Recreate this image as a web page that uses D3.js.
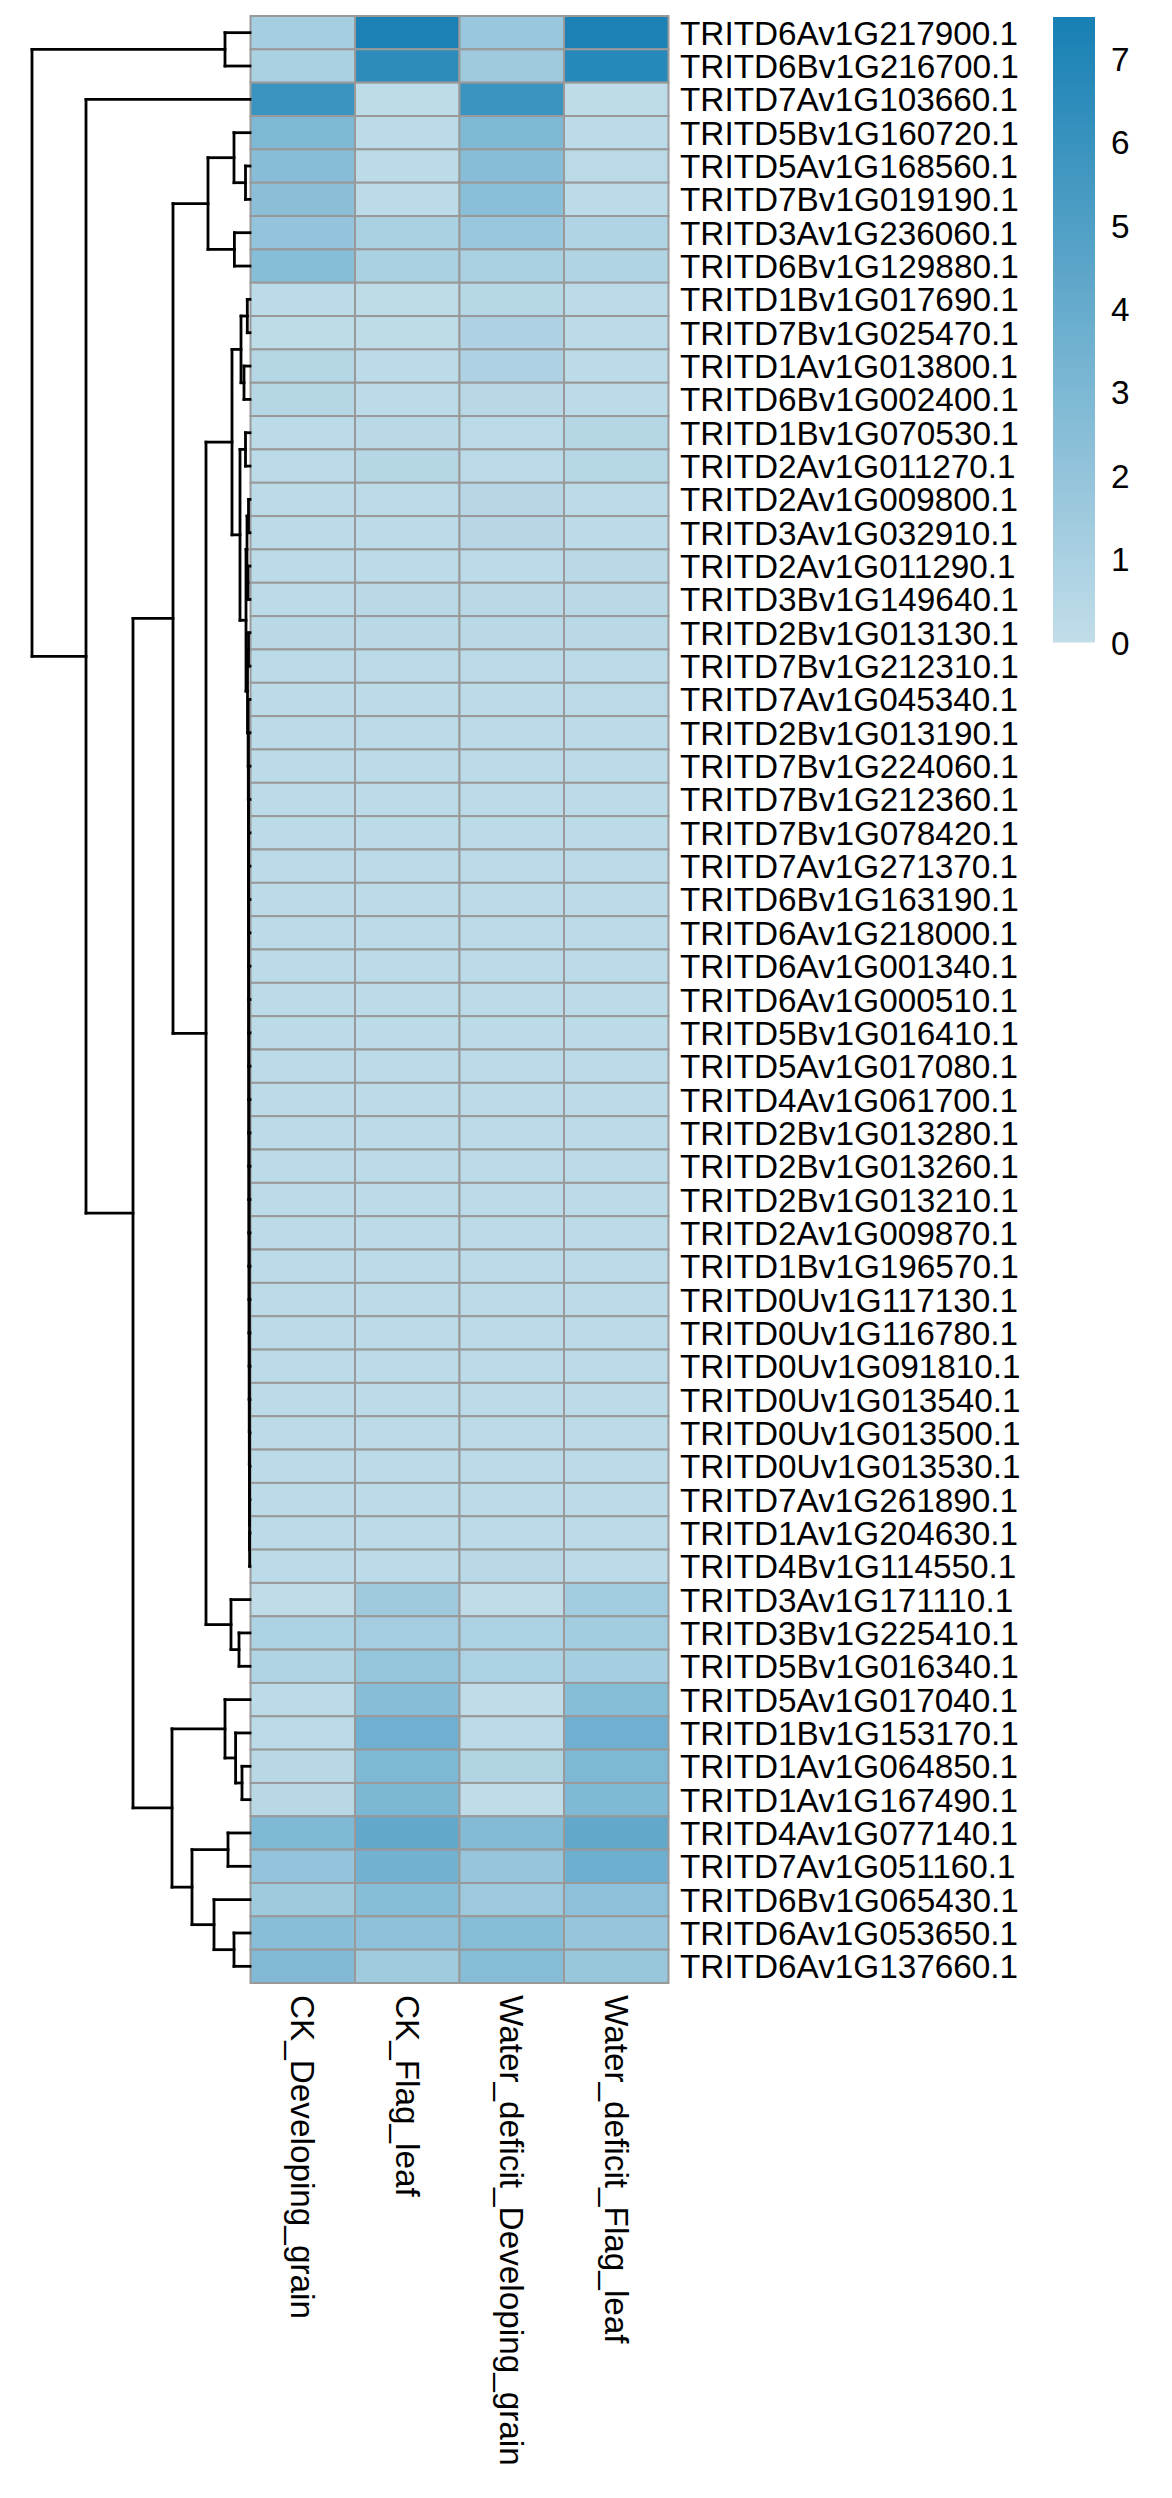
<!DOCTYPE html>
<html>
<head>
<meta charset="utf-8">
<script src="https://cdn.jsdelivr.net/npm/d3@7/dist/d3.min.js"></script>
<style>
  html, body { margin: 0; padding: 0; background: #ffffff; }
  svg { display: block; }
  text { font-family: "Liberation Sans", Arial, Helvetica, sans-serif; fill: #000; }
</style>
</head>
<body>
<svg id="chart" width="1172" height="2498"></svg>
<script>
// ---------------- DATA ----------------
const rowLabels = [
  "TRITD6Av1G217900.1","TRITD6Bv1G216700.1","TRITD7Av1G103660.1","TRITD5Bv1G160720.1",
  "TRITD5Av1G168560.1","TRITD7Bv1G019190.1","TRITD3Av1G236060.1","TRITD6Bv1G129880.1",
  "TRITD1Bv1G017690.1","TRITD7Bv1G025470.1","TRITD1Av1G013800.1","TRITD6Bv1G002400.1",
  "TRITD1Bv1G070530.1","TRITD2Av1G011270.1","TRITD2Av1G009800.1","TRITD3Av1G032910.1",
  "TRITD2Av1G011290.1","TRITD3Bv1G149640.1","TRITD2Bv1G013130.1","TRITD7Bv1G212310.1",
  "TRITD7Av1G045340.1","TRITD2Bv1G013190.1","TRITD7Bv1G224060.1","TRITD7Bv1G212360.1",
  "TRITD7Bv1G078420.1","TRITD7Av1G271370.1","TRITD6Bv1G163190.1","TRITD6Av1G218000.1",
  "TRITD6Av1G001340.1","TRITD6Av1G000510.1","TRITD5Bv1G016410.1","TRITD5Av1G017080.1",
  "TRITD4Av1G061700.1","TRITD2Bv1G013280.1","TRITD2Bv1G013260.1","TRITD2Bv1G013210.1",
  "TRITD2Av1G009870.1","TRITD1Bv1G196570.1","TRITD0Uv1G117130.1","TRITD0Uv1G116780.1",
  "TRITD0Uv1G091810.1","TRITD0Uv1G013540.1","TRITD0Uv1G013500.1","TRITD0Uv1G013530.1",
  "TRITD7Av1G261890.1","TRITD1Av1G204630.1","TRITD4Bv1G114550.1","TRITD3Av1G171110.1",
  "TRITD3Bv1G225410.1","TRITD5Bv1G016340.1","TRITD5Av1G017040.1","TRITD1Bv1G153170.1",
  "TRITD1Av1G064850.1","TRITD1Av1G167490.1","TRITD4Av1G077140.1","TRITD7Av1G051160.1",
  "TRITD6Bv1G065430.1","TRITD6Av1G053650.1","TRITD6Av1G137660.1"
];

const colLabels = ["CK_Developing_grain","CK_Flag_leaf","Water_deficit_Developing_grain","Water_deficit_Flag_leaf"];

const ckDevelopingGrain = [
  1.2, 1.0, 5.9, 3.0, 2.55, 2.4, 2.05, 2.6, 0.2, 0.15,
  0.55, 0.55, 0.2, 0.2, 0.2, 0.2, 0.2, 0.2, 0.3, 0.2,
  0.2, 0.2, 0.2, 0.2, 0.2, 0.2, 0.2, 0.2, 0.2, 0.2,
  0.2, 0.2, 0.2, 0.2, 0.2, 0.2, 0.2, 0.2, 0.2, 0.2,
  0.2, 0.2, 0.2, 0.2, 0.2, 0.2, 0.2, 0.1, 0.9, 0.75,
  0.2, 0.25, 0.4, 0.4, 2.9, 2.05, 1.55, 2.5, 2.8
];
const ckFlagLeaf = [
  7.3, 6.5, 0.15, 0.2, 0.2, 0.2, 1.0, 1.0, 0.15, 0.15,
  0.2, 0.2, 0.3, 0.55, 0.25, 0.2, 0.2, 0.3, 0.3, 0.25,
  0.2, 0.25, 0.2, 0.2, 0.2, 0.2, 0.2, 0.2, 0.2, 0.2,
  0.2, 0.2, 0.2, 0.2, 0.2, 0.2, 0.2, 0.2, 0.2, 0.2,
  0.2, 0.2, 0.2, 0.2, 0.2, 0.2, 0.2, 1.5, 1.3, 1.95,
  2.55, 3.6, 3.0, 3.05, 4.25, 3.5, 2.6, 2.3, 1.45
];
const wdDevelopingGrain = [
  1.75, 1.5, 5.9, 3.0, 2.55, 2.45, 1.75, 1.0, 0.5, 0.85,
  0.85, 0.4, 0.25, 0.2, 0.45, 0.45, 0.2, 0.3, 0.3, 0.25,
  0.2, 0.2, 0.2, 0.2, 0.2, 0.2, 0.2, 0.2, 0.2, 0.2,
  0.2, 0.2, 0.2, 0.2, 0.2, 0.2, 0.2, 0.2, 0.2, 0.2,
  0.2, 0.2, 0.2, 0.2, 0.2, 0.2, 0.3, 0.1, 0.9, 0.9,
  0.1, 0.2, 0.65, 0.1, 2.75, 1.9, 1.6, 2.65, 2.65
];
const wdFlagLeaf = [
  7.3, 6.8, 0.15, 0.2, 0.25, 0.2, 0.7, 0.7, 0.2, 0.2,
  0.2, 0.2, 0.55, 0.5, 0.2, 0.2, 0.35, 0.3, 0.3, 0.2,
  0.25, 0.2, 0.2, 0.2, 0.2, 0.2, 0.2, 0.2, 0.2, 0.2,
  0.2, 0.2, 0.2, 0.2, 0.2, 0.2, 0.2, 0.2, 0.2, 0.2,
  0.2, 0.2, 0.2, 0.2, 0.2, 0.2, 0.2, 1.35, 1.35, 1.25,
  2.6, 3.6, 2.95, 2.9, 4.25, 3.7, 2.3, 1.9, 1.8
];

const legendTicks = [0, 1, 2, 3, 4, 5, 6, 7];
const colorDomain = [0, 7.5];

// Row dendrogram merges: [id, left, right, height]; numbers = row index, strings = earlier merge id
const dendroMerges = [
  ["a1", 0, 1, 1.25],
  ["a2", 4, 5, 0.225],
  ["a3", 3, "a2", 0.8],
  ["a4", 6, 7, 0.78],
  ["a5", "a3", "a4", 2.1],
  ["b1", 8, 9, 0.135],
  ["b2", 10, 11, 0.3],
  ["b3", "b1", "b2", 0.45],
  ["b4", 12, 13, 0.225],
  ["c1", 14, 15, 0.075],
  ["c2", 16, 17, 0.1],
  ["c3", "c1", "c2", 0.15],
  ["c4", 18, 19, 0.075],
  ["k45", 45, 46, 0.02],
  ["k44", 44, "k45", 0.025],
  ["k43", 43, "k44", 0.03],
  ["k42", 42, "k43", 0.03],
  ["k41", 41, "k42", 0.035],
  ["k40", 40, "k41", 0.035],
  ["k39", 39, "k40", 0.04],
  ["k38", 38, "k39", 0.04],
  ["k37", 37, "k38", 0.045],
  ["k36", 36, "k37", 0.045],
  ["k35", 35, "k36", 0.05],
  ["k34", 34, "k35", 0.05],
  ["k33", 33, "k34", 0.055],
  ["k32", 32, "k33", 0.055],
  ["k31", 31, "k32", 0.06],
  ["k30", 30, "k31", 0.06],
  ["k29", 29, "k30", 0.065],
  ["k28", 28, "k29", 0.065],
  ["k27", 27, "k28", 0.07],
  ["k26", 26, "k27", 0.07],
  ["k25", 25, "k26", 0.075],
  ["k24", 24, "k25", 0.075],
  ["k23", 23, "k24", 0.08],
  ["k22", 22, "k23", 0.08],
  ["k21", 21, "k22", 0.085],
  ["k20", 20, "k21", 0.09],
  ["c5", "c4", "k20", 0.125],
  ["c6", "c3", "c5", 0.2],
  ["b5", "b4", "c6", 0.5],
  ["b6", "b3", "b5", 0.9],
  ["d1", 48, 49, 0.55],
  ["d2", 47, "d1", 0.95],
  ["b7", "b6", "d2", 2.2],
  ["a6", "a5", "b7", 3.85],
  ["e1", 52, 53, 0.4],
  ["e2", 51, "e1", 0.72],
  ["e3", 50, "e2", 1.25],
  ["f1", 54, 55, 1.1],
  ["f2", 57, 58, 0.8],
  ["f3", 56, "f2", 1.8],
  ["f4", "f1", "f3", 2.9],
  ["e4", "e3", "f4", 3.9],
  ["g1", "a6", "e4", 5.85],
  ["g2", 2, "g1", 8.2],
  ["root", "a1", "g2", 10.9]
];

// ---------------- LAYOUT ----------------
const svg = d3.select("#chart");
svg.append("rect").attr("width", 1172).attr("height", 2498).attr("fill", "#fff");

const heatLeft = 250.5, heatRight = 668.5, heatTop = 16, heatBottom = 1983;
const series = [ckDevelopingGrain, ckFlagLeaf, wdDevelopingGrain, wdFlagLeaf];

const x = d3.scaleBand().domain(colLabels).range([heatLeft, heatRight]);
const y = d3.scaleBand().domain(rowLabels).range([heatTop, heatBottom]);
const color = d3.scaleLinear().domain(colorDomain).range(["#C1DDE9", "#1780B4"]).interpolate(d3.interpolateRgb).clamp(true);

const cells = [];
rowLabels.forEach((r, i) => colLabels.forEach((c, j) => cells.push({ r, c, v: series[j][i] })));

svg.append("g").selectAll("rect").data(cells).join("rect")
  .attr("x", d => x(d.c))
  .attr("y", d => y(d.r))
  .attr("width", x.bandwidth())
  .attr("height", y.bandwidth())
  .attr("fill", d => color(d.v))
  .attr("stroke", "#999999")
  .attr("stroke-width", 2);

// Row labels
svg.append("g").selectAll("text").data(rowLabels).join("text")
  .attr("x", 680)
  .attr("y", d => y(d) + y.bandwidth() / 2 + 12)
  .attr("font-size", "33.3px")
  .text(d => d);

// Column labels (rotated)
svg.append("g").selectAll("text").data(colLabels).join("text")
  .attr("transform", d => `translate(${x(d) + x.bandwidth() / 2},1995) rotate(90)`)
  .attr("dy", "0.35em")
  .attr("font-size", "33.3px")
  .text(d => d);

// ---------------- DENDROGRAM ----------------
const maxH = d3.max(dendroMerges, d => d[3]);
const hx = d3.scaleLinear().domain([0, maxH]).range([heatLeft - 0.5, 32]);
const nodes = {};
function info(ref) {
  if (typeof ref === "number") return { y: y(rowLabels[ref]) + y.bandwidth() / 2, h: 0 };
  return nodes[ref];
}
const segs = [];
dendroMerges.forEach(([id, l, r, h]) => {
  const a = info(l), b = info(r);
  const xn = hx(h);
  segs.push([xn, a.y, xn, b.y]);
  segs.push([xn, a.y, hx(a.h), a.y]);
  segs.push([xn, b.y, hx(b.h), b.y]);
  nodes[id] = { y: (a.y + b.y) / 2, h };
});
svg.append("g").selectAll("line").data(segs).join("line")
  .attr("x1", d => d[0]).attr("y1", d => d[1])
  .attr("x2", d => d[2]).attr("y2", d => d[3])
  .attr("stroke", "#000").attr("stroke-width", 2.8).attr("stroke-linecap", "square");

// ---------------- LEGEND ----------------
const legTop = 17, legBottom = 642.5, legX = 1053, legW = 42;
const ly = d3.scaleLinear().domain(colorDomain).range([legBottom, legTop]);
const defs = svg.append("defs");
const grad = defs.append("linearGradient").attr("id", "lg").attr("x1", 0).attr("y1", 1).attr("x2", 0).attr("y2", 0);
d3.range(0, 11).forEach(k => {
  const v = colorDomain[0] + (colorDomain[1] - colorDomain[0]) * k / 10;
  grad.append("stop").attr("offset", k / 10).attr("stop-color", color(v));
});
svg.append("rect").attr("x", legX).attr("y", legTop).attr("width", legW).attr("height", legBottom - legTop).attr("fill", "url(#lg)");
svg.append("g").selectAll("text").data(legendTicks).join("text")
  .attr("x", 1111)
  .attr("y", d => ly(d) + 12)
  .attr("font-size", "33.3px")
  .text(d => d);
</script>
</body>
</html>
